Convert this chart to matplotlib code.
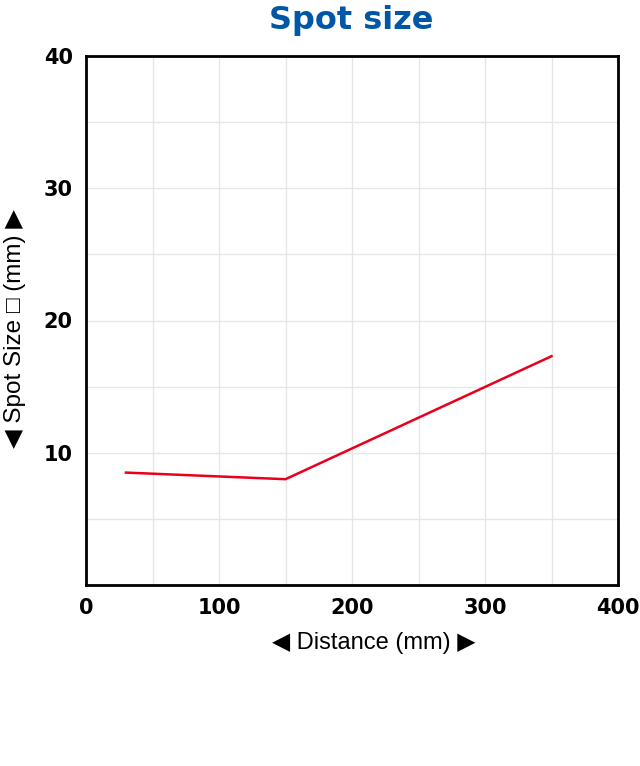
import matplotlib.pyplot as plt

# data
distance = [30, 150, 350]
spot_size = [8.5, 8.0, 17.3]
x_ticks = [0, 100, 200, 300, 400]
y_ticks = [10, 20, 30, 40]

fig = plt.figure(figsize=(6.4, 7.66), dpi=100)
ax = fig.add_axes([86 / 640, 1 - 585 / 766, 532 / 640, 529 / 766])

ax.plot(distance, spot_size, color="#e8001c", lw=1.8, zorder=3)

ax.set_xlim(0, 400)
ax.set_ylim(0, 40)
ax.set_xticks(x_ticks)
ax.set_yticks(y_ticks)
ax.set_xticks(range(0, 401, 50), minor=True)
ax.set_yticks(range(0, 41, 5), minor=True)
ax.grid(True, which="both", color="#e6e6e6", lw=1)
ax.set_axisbelow(True)
ax.tick_params(which="both", length=0)
ax.tick_params(axis="x", pad=9)
ax.tick_params(axis="y", pad=9.5)
for lab in ax.get_xticklabels() + ax.get_yticklabels():
    lab.set_fontweight("heavy")
    lab.set_fontsize(15)
    lab.set_family("DejaVu Sans")
for s in ax.spines.values():
    s.set_linewidth(2)
    s.set_color("black")

fig.text(351 / 640, 1 - 21 / 766, "Spot size", ha="center", va="center",
         fontsize=23, fontweight="bold", color="#0057a8", family="DejaVu Sans")
fig.text(374 / 640, 1 - 643 / 766, "◀ Distance (mm) ▶", ha="center", va="center",
         fontsize=17, family=["Liberation Sans", "DejaVu Sans"])
fig.text(15 / 640, 1 - 329 / 766, "◀ Spot Size □ (mm) ▶", ha="center", va="center",
         rotation=90, fontsize=17.5, family=["Liberation Sans", "DejaVu Sans"])

fig.savefig("out.png", dpi=100)
